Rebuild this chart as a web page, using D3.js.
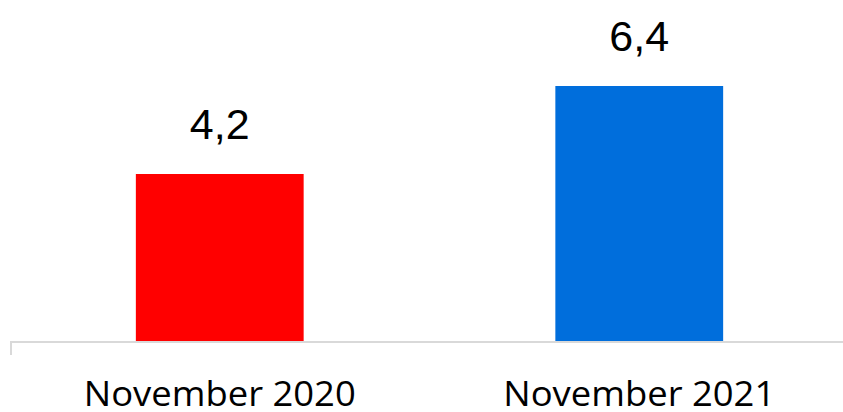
<!DOCTYPE html>
<html lang="de">
<head>
    <meta charset="UTF-8">
    <title>November 2020 vs November 2021</title>
    <script src="https://d3js.org/d3.v7.min.js"></script>
    <style>
        html, body {
            margin: 0;
            padding: 0;
            background: #fff;
        }
        svg {
            display: block;
        }
        .value-label {
            font-family: "Liberation Sans", Arial, sans-serif;
            font-size: 43px;
            fill: #000;
        }
        .cat-label {
            font-family: "Open Sans", sans-serif;
            font-size: 35px;
            fill: #000;
        }
    </style>
</head>
<body>
    <svg width="843" height="412"></svg>

    <script>
        // Data
        const categories = ["November 2020", "November 2021"];
        const values = [4.2, 6.4];
        const valueLabels = ["4,2", "6,4"];
        const colors = ["#ff0000", "#006edc"];

        const svg = d3.select("svg");
        const baseline = 342;

        // Scales
        const x = d3.scaleBand()
            .domain(categories)
            .range([10, 849])
            .paddingInner(0.6)
            .paddingOuter(0.3);

        const y = d3.scaleLinear()
            .domain([0, 8])
            .range([baseline, baseline - 320]);

        // Bars
        svg.append("g")
            .selectAll("rect")
            .data(values)
            .enter().append("rect")
            .attr("x", (d, i) => x(categories[i]))
            .attr("y", d => y(d))
            .attr("width", x.bandwidth())
            .attr("height", d => y(0) - y(d))
            .attr("fill", (d, i) => colors[i]);

        // Value labels
        svg.append("g")
            .selectAll("text")
            .data(values)
            .enter().append("text")
            .attr("class", "value-label")
            .attr("x", (d, i) => x(categories[i]) + x.bandwidth() / 2)
            .attr("y", d => y(d) - 35)
            .attr("text-anchor", "middle")
            .text((d, i) => valueLabels[i]);

        // Category axis
        const axis = svg.append("g");
        axis.append("line")
            .attr("x1", 10).attr("x2", 843)
            .attr("y1", baseline).attr("y2", baseline)
            .attr("stroke", "#d9d9d9")
            .attr("stroke-width", 2);
        axis.append("line")
            .attr("x1", 11).attr("x2", 11)
            .attr("y1", baseline).attr("y2", baseline + 13)
            .attr("stroke", "#d9d9d9")
            .attr("stroke-width", 2);

        axis.selectAll("text")
            .data(categories)
            .enter().append("text")
            .attr("class", "cat-label")
            .attr("x", d => x(d) + x.bandwidth() / 2)
            .attr("y", 406)
            .attr("text-anchor", "middle")
            .attr("textLength", 272)
            .attr("lengthAdjust", "spacingAndGlyphs")
            .text(d => d);
    </script>
</body>
</html>
